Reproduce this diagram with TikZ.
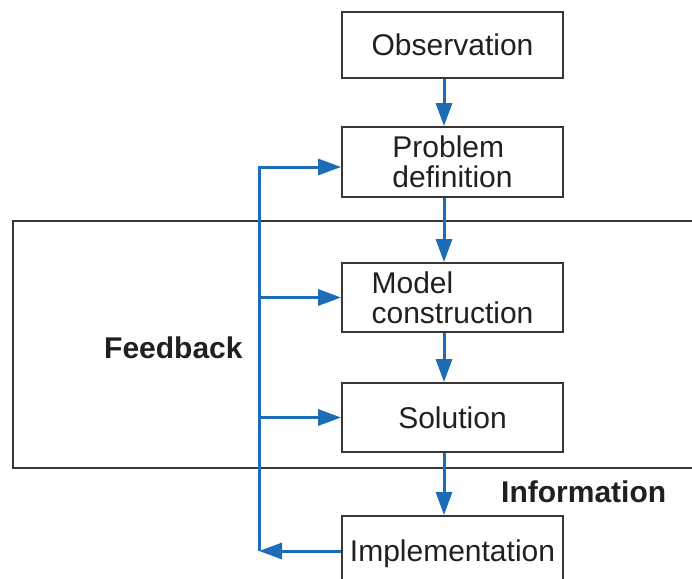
\documentclass[tikz,border=0pt]{standalone}
\usepackage{fontspec}
\setmainfont{Liberation Sans}
\usetikzlibrary{arrows.meta,calc}
\definecolor{flowblue}{RGB}{28,108,184}
\definecolor{boxgray}{RGB}{55,55,55}
\definecolor{txt}{RGB}{35,31,32}
\begin{document}
\begin{tikzpicture}[x=1pt,y=-1pt,
  stepbox/.style={draw=boxgray,line width=1.8pt,minimum width=221pt,inner sep=0pt,
    align=left,text=txt,font=\fontsize{30}{30}\selectfont},
  flow/.style={draw=flowblue,line width=3pt,-{Triangle[length=23pt,width=16pt]}},
  fline/.style={draw=flowblue,line width=3pt},
  lbl/.style={text=txt,font=\fontsize{30}{30}\selectfont\bfseries,inner sep=0pt}]
\useasboundingbox (0,0) rectangle (692,578);
\clip (0,0) rectangle (692,578);
% big frame
\draw[draw=boxgray,line width=1.8pt] (13,221) rectangle (720,468);
% boxes
\node[stepbox,minimum height=66pt] (obs) at (452.5,45) {Observation};
\node[stepbox,minimum height=70pt] (prob) at (452.5,162) {Problem\\definition};
\node[stepbox,minimum height=69pt] (model) at (452.5,297.5) {Model\\construction};
\node[stepbox,minimum height=69pt] (sol) at (452.5,417.5) {Solution};
\node[stepbox,minimum height=76pt] (impl) at (452.5,554) {Implementation};
% labels
\node[lbl,anchor=base west] (fb) at (104,358) {Feedback};
\node[lbl,anchor=base west] (info) at (501,502) {Information};
% main flow
\draw[flow] ([xshift=-8.5pt]obs.south) -- ([xshift=-8.5pt]prob.north);
\draw[flow] ([xshift=-8.5pt]prob.south) -- ([xshift=-8.5pt]model.north);
\draw[flow] ([xshift=-8.5pt]model.south) -- ([xshift=-8.5pt]sol.north);
\draw[flow] ([xshift=-8.5pt]sol.south) -- ([xshift=-8.5pt]impl.north);
% feedback loop
\coordinate (fbB) at (259,551);
\coordinate (fbT) at (259,167);
\draw[flow] (impl.west |- fbB) -- (fbB);
\draw[fline] (fbB) -- (fbT);
\draw[flow] ([xshift=-1.5pt]fbT) -- (prob.west |- fbT);
\draw[flow] (fbB |- model.west) -- (model.west);
\draw[flow] (fbB |- sol.west) -- (sol.west);
\end{tikzpicture}
\end{document}
